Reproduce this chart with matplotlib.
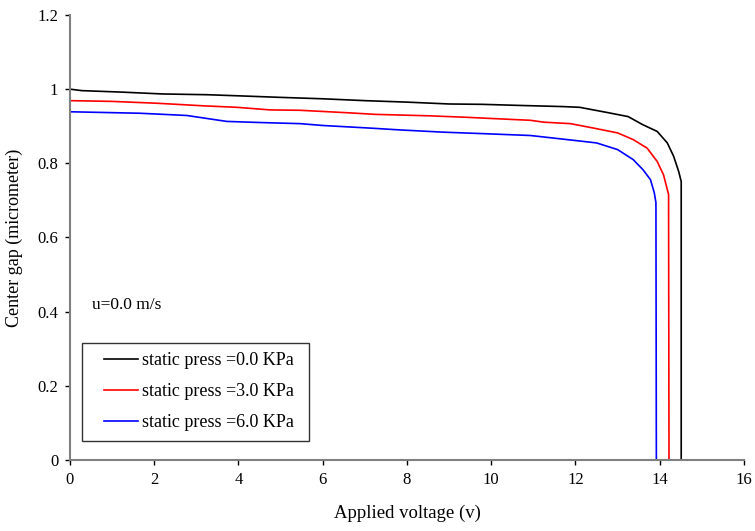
import matplotlib.pyplot as plt
from matplotlib.lines import Line2D
from matplotlib.legend_handler import HandlerLine2D

# Tension appliquee (V) et gap central (micrometre) pour chaque pression statique
v_p0 = [0, 0.28, 1.23, 2.2, 3.25, 4.0, 4.95, 6.0, 7.0, 8.0, 9.0, 9.8, 10.7,
        11.7, 12.1, 12.8, 13.25, 13.6, 13.94, 14.18, 14.33, 14.45, 14.51, 14.51]
gap_p0 = [1.0, 0.996, 0.992, 0.987, 0.985, 0.982, 0.978, 0.974, 0.969, 0.965, 0.960, 0.959, 0.956,
          0.953, 0.951, 0.936, 0.926, 0.904, 0.886, 0.855, 0.819, 0.778, 0.751, 0.0]

v_p3 = [0, 0.99, 2.06, 2.7, 3.17, 3.96, 4.75, 5.46, 6.65, 7.24, 8.55, 9.43, 9.98, 10.93,
        11.24, 11.88, 12.43, 13.0, 13.37, 13.7, 13.94, 14.09, 14.21, 14.22]
gap_p3 = [0.969, 0.967, 0.962, 0.958, 0.955, 0.951, 0.944, 0.943, 0.936, 0.932, 0.928, 0.924, 0.921, 0.916,
          0.911, 0.907, 0.895, 0.882, 0.864, 0.841, 0.805, 0.769, 0.716, 0.0]

v_p6 = [0, 1.66, 2.77, 3.72, 4.51, 5.46, 6.0, 7.12, 7.84, 8.86, 9.81, 10.93,
        11.8, 12.5, 13.0, 13.37, 13.6, 13.78, 13.87, 13.91, 13.92]
gap_p6 = [0.939, 0.935, 0.929, 0.913, 0.910, 0.907, 0.902, 0.895, 0.890, 0.884, 0.880, 0.875,
          0.864, 0.855, 0.837, 0.81, 0.783, 0.756, 0.721, 0.694, 0.0]

labels = ['static press =0.0 KPa', 'static press =3.0 KPa', 'static press =6.0 KPa']
x_ticks = [0, 2, 4, 6, 8, 10, 12, 14, 16]
y_ticks = [0, 0.2, 0.4, 0.6, 0.8, 1.0, 1.2]
y_tick_labels = ['0', '0.2', '0.4', '0.6', '0.8', '1', '1.2']

plt.rcParams['font.family'] = ['Liberation Serif', 'DejaVu Serif']

fig = plt.figure(figsize=(7.55, 5.31), dpi=100)
ax = fig.add_axes([0.0927, 0.1337, 0.8927, 0.8381])

ax.plot(v_p0, gap_p0, color='black', linewidth=1.2, label=labels[0])
ax.plot(v_p3, gap_p3, color='red', linewidth=1.2, label=labels[1])
ax.plot(v_p6, gap_p6, color='blue', linewidth=1.2, label=labels[2])

ax.set_xlim(0, 16)
ax.set_ylim(0, 1.2)
ax.set_xticks(x_ticks)
ax.set_yticks(y_ticks)
ax.set_yticklabels(y_tick_labels)

for side in ['top', 'right']:
    ax.spines[side].set_visible(False)
for side in ['left', 'bottom']:
    ax.spines[side].set_color('#808080')
    ax.spines[side].set_linewidth(1.5)

ax.tick_params(axis='both', direction='out', length=3.5, width=1, color='black',
               labelsize=12, pad=5)

ax.set_xlabel('Applied voltage (v)', fontsize=13.5, labelpad=12)
ax.set_ylabel('Center gap (micrometer)', fontsize=13, labelpad=10)

ax.text(0.52, 0.417, 'u=0.0 m/s', fontsize=12.5, va='center', ha='left')

# cadre de legende elargi (mode expand), marge a gauche du trait
leg = ax.legend(loc='lower left', bbox_to_anchor=(0.0178, 0.0426, 0.3368, 0.2),
                mode='expand', fontsize=13,
                frameon=True, fancybox=False, edgecolor='black', handlelength=2.6,
                handletextpad=0.2, borderpad=0.53, labelspacing=0.78, borderaxespad=0,
                handler_map={Line2D: HandlerLine2D(xpad=0.7)})
leg.get_frame().set_linewidth(1.0)

plt.savefig('out.png', dpi=100)
